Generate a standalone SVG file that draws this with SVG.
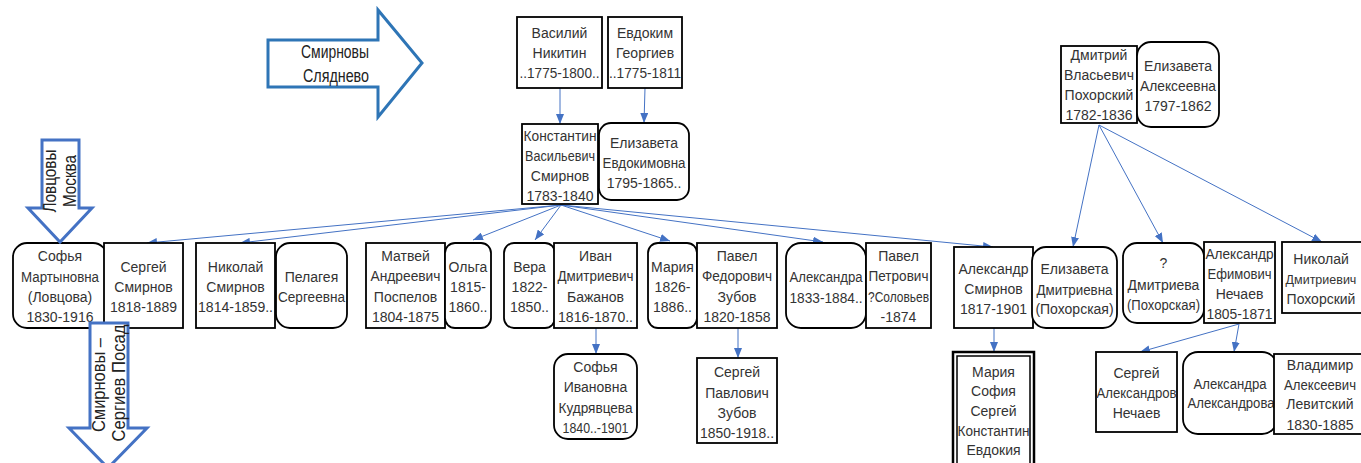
<svg xmlns="http://www.w3.org/2000/svg" width="1361" height="463" viewBox="0 0 1361 463">
<defs>
<marker id="ah" markerWidth="10" markerHeight="8" refX="10" refY="4" orient="auto" markerUnits="userSpaceOnUse">
<path d="M0,0 L10,4 L0,8 z" fill="#4472c4"/>
</marker>
<style>
.n{fill:#fff;stroke:#000;stroke-width:1.8}
.t{font-family:"Liberation Sans",Arial,sans-serif;font-size:14px;fill:#333;text-anchor:middle}
.c{stroke:#4472c4;stroke-width:1;fill:none;marker-end:url(#ah)}
.ba{fill:#fff;stroke:#2e75b6;stroke-width:3}
.bt{font-family:"Liberation Sans",Arial,sans-serif;fill:#222;text-anchor:middle}
</style>
</defs>
<rect width="1361" height="463" fill="#fff"/>

<g id="connectors">
<path class="c" d="M560,88 V124"/>
<path class="c" d="M645,88 L644,123"/>
<path class="c" d="M561,205 L147,243"/>
<path class="c" d="M561,205 L240,243"/>
<path class="c" d="M561,205 L473,240"/>
<path class="c" d="M561,205 L535,240"/>
<path class="c" d="M561,205 L670,241"/>
<path class="c" d="M561,205 L823,242"/>
<path class="c" d="M561,205 L993,247"/>
<path class="c" d="M1099,125 L1073,247"/>
<path class="c" d="M1099,125 L1163,243"/>
<path class="c" d="M1099,125 L1322,242"/>
<path class="c" d="M596,328 V354"/>
<path class="c" d="M738,328 V358"/>
<path class="c" d="M994,328 V352"/>
<path class="c" d="M1239,324 L1140,352"/>
<path class="c" d="M1239,324 L1234,352"/>
</g>

<g id="vasiliy"><rect class="n" x="517" y="17" width="85" height="71"/>
<text class="t" x="559.5" y="38">Василий</text><text class="t" x="559.5" y="58">Никитин</text><text class="t" x="559.5" y="78" textLength="80" lengthAdjust="spacingAndGlyphs">..1775-1800..</text></g>
<g id="evdokim"><rect class="n" x="608" y="17" width="74" height="71"/>
<text class="t" x="645" y="38">Евдоким</text><text class="t" x="645" y="58">Георгиев</text><text class="t" x="645" y="78" textLength="72" lengthAdjust="spacingAndGlyphs">..1775-1811</text></g>
<g id="konstantin"><rect class="n" x="522" y="124" width="76" height="80"/>
<text class="t" x="560" y="141" textLength="73" lengthAdjust="spacingAndGlyphs">Константин</text><text class="t" x="560" y="161" textLength="70" lengthAdjust="spacingAndGlyphs">Васильевич</text><text class="t" x="560" y="181">Смирнов</text><text class="t" x="560" y="201">1783-1840</text></g>
<g id="elizaveta-evd"><rect class="n" x="599" y="123" width="90" height="77" rx="12"/>
<text class="t" x="644" y="148">Елизавета</text><text class="t" x="644" y="168" textLength="83" lengthAdjust="spacingAndGlyphs">Евдокимовна</text><text class="t" x="644" y="188">1795-1865..</text></g>
<g id="dmitriy"><rect class="n" x="1061" y="46" width="76" height="77"/>
<text class="t" x="1099" y="60">Дмитрий</text><text class="t" x="1099" y="80">Власьевич</text><text class="t" x="1099" y="100">Похорский</text><text class="t" x="1099" y="120">1782-1836</text></g>
<g id="elizaveta-alek"><rect class="n" x="1137" y="42" width="82" height="85" rx="14"/>
<text class="t" x="1178" y="71">Елизавета</text><text class="t" x="1178" y="91" textLength="76" lengthAdjust="spacingAndGlyphs">Алексеевна</text><text class="t" x="1178" y="111">1797-1862</text></g>

<g id="sofya-m"><rect class="n" x="13" y="243" width="94" height="85" rx="14"/>
<text class="t" x="60" y="261">Софья</text><text class="t" x="60" y="282" textLength="78" lengthAdjust="spacingAndGlyphs">Мартыновна</text><text class="t" x="60" y="302">(Ловцова)</text><text class="t" x="60" y="322">1830-1916</text></g>
<g id="sergey-s"><rect class="n" x="104" y="243" width="79" height="85"/>
<text class="t" x="143.5" y="272">Сергей</text><text class="t" x="143.5" y="292">Смирнов</text><text class="t" x="143.5" y="312">1818-1889</text></g>
<g id="nikolay-s"><rect class="n" x="196" y="243" width="79" height="85"/>
<text class="t" x="235.5" y="272">Николай</text><text class="t" x="235.5" y="292">Смирнов</text><text class="t" x="235.5" y="312" textLength="75" lengthAdjust="spacingAndGlyphs">1814-1859..</text></g>
<g id="pelageya"><rect class="n" x="276" y="243" width="71" height="85" rx="14"/>
<text class="t" x="311.5" y="282">Пелагея</text><text class="t" x="311.5" y="302" textLength="67" lengthAdjust="spacingAndGlyphs">Сергеевна</text></g>
<g id="matvey"><rect class="n" x="366" y="243" width="79" height="85"/>
<text class="t" x="405.5" y="261">Матвей</text><text class="t" x="405.5" y="281" textLength="70" lengthAdjust="spacingAndGlyphs">Андреевич</text><text class="t" x="405.5" y="302">Поспелов</text><text class="t" x="405.5" y="322">1804-1875</text></g>
<g id="olga"><rect class="n" x="445" y="243" width="46" height="85" rx="10"/>
<text class="t" x="468" y="272">Ольга</text><text class="t" x="468" y="292">1815-</text><text class="t" x="468" y="312">1860..</text></g>
<g id="vera"><rect class="n" x="504" y="243" width="51" height="85" rx="10"/>
<text class="t" x="529.5" y="272">Вера</text><text class="t" x="529.5" y="292">1822-</text><text class="t" x="529.5" y="312">1850..</text></g>
<g id="ivan"><rect class="n" x="554" y="243" width="83" height="85"/>
<text class="t" x="595.5" y="261">Иван</text><text class="t" x="595.5" y="281" textLength="76" lengthAdjust="spacingAndGlyphs">Дмитриевич</text><text class="t" x="595.5" y="302">Бажанов</text><text class="t" x="595.5" y="322" textLength="75" lengthAdjust="spacingAndGlyphs">1816-1870..</text></g>
<g id="mariya"><rect class="n" x="648" y="243" width="49" height="85" rx="10"/>
<text class="t" x="672.5" y="272">Мария</text><text class="t" x="672.5" y="292">1826-</text><text class="t" x="672.5" y="312">1886..</text></g>
<g id="pavel-f"><rect class="n" x="697" y="243" width="80" height="85"/>
<text class="t" x="737" y="261">Павел</text><text class="t" x="737" y="281" textLength="70" lengthAdjust="spacingAndGlyphs">Федорович</text><text class="t" x="737" y="302">Зубов</text><text class="t" x="737" y="322">1820-1858</text></g>
<g id="aleksandra"><rect class="n" x="786" y="243" width="80" height="85" rx="15"/>
<text class="t" x="826" y="282" textLength="73" lengthAdjust="spacingAndGlyphs">Александра</text><text class="t" x="826" y="303" textLength="73" lengthAdjust="spacingAndGlyphs">1833-1884..</text></g>
<g id="pavel-p"><rect class="n" x="866" y="243" width="65" height="85"/>
<text class="t" x="898.5" y="261">Павел</text><text class="t" x="898.5" y="281" textLength="60" lengthAdjust="spacingAndGlyphs">Петрович</text><text class="t" x="898.5" y="302" textLength="61" lengthAdjust="spacingAndGlyphs">?Соловьев</text><text class="t" x="898.5" y="322">-1874</text></g>
<g id="aleksandr-s"><rect class="n" x="954" y="247" width="79" height="81"/>
<text class="t" x="993.5" y="274" textLength="70" lengthAdjust="spacingAndGlyphs">Александр</text><text class="t" x="993.5" y="294">Смирнов</text><text class="t" x="993.5" y="314">1817-1901</text></g>
<g id="elizaveta-dm"><rect class="n" x="1032" y="247" width="85" height="81" rx="14"/>
<text class="t" x="1074.5" y="274">Елизавета</text><text class="t" x="1074.5" y="295" textLength="76" lengthAdjust="spacingAndGlyphs">Дмитриевна</text><text class="t" x="1074.5" y="314">(Похорская)</text></g>
<g id="dmitrieva"><rect class="n" x="1123" y="243" width="81" height="80" rx="14"/>
<text class="t" x="1163.5" y="268">?</text><text class="t" x="1163.5" y="290">Дмитриева</text><text class="t" x="1163.5" y="310" textLength="73" lengthAdjust="spacingAndGlyphs">(Похорская)</text></g>
<g id="aleksandr-ef"><rect class="n" x="1204" y="242" width="71" height="81"/>
<text class="t" x="1239.5" y="259" textLength="68" lengthAdjust="spacingAndGlyphs">Александр</text><text class="t" x="1239.5" y="279" textLength="64" lengthAdjust="spacingAndGlyphs">Ефимович</text><text class="t" x="1239.5" y="299">Нечаев</text><text class="t" x="1239.5" y="319" textLength="66" lengthAdjust="spacingAndGlyphs">1805-1871</text></g>
<g id="nikolay-d"><rect class="n" x="1282" y="242" width="90" height="71"/>
<text class="t" x="1321" y="264">Николай</text><text class="t" x="1321" y="284" style="font-size:12.5px">Дмитриевич</text><text class="t" x="1321" y="304">Похорский</text></g>

<g id="sofya-i"><rect class="n" x="554" y="354" width="83" height="85" rx="14"/>
<text class="t" x="595.5" y="372">Софья</text><text class="t" x="595.5" y="392">Ивановна</text><text class="t" x="595.5" y="413" textLength="74" lengthAdjust="spacingAndGlyphs">Кудрявцева</text><text class="t" x="595.5" y="433" textLength="66" lengthAdjust="spacingAndGlyphs">1840..-1901</text></g>
<g id="sergey-p"><rect class="n" x="697" y="358" width="80" height="85"/>
<text class="t" x="737" y="377">Сергей</text><text class="t" x="737" y="398">Павлович</text><text class="t" x="737" y="418">Зубов</text><text class="t" x="737" y="438" textLength="74" lengthAdjust="spacingAndGlyphs">1850-1918..</text></g>
<g id="mariya-sofiya"><rect x="953" y="352" width="81" height="130" fill="#fff" stroke="#000" stroke-width="2.5"/>
<rect x="957" y="356" width="73" height="130" fill="none" stroke="#000" stroke-width="1.5"/>
<text class="t" x="993.5" y="377">Мария</text><text class="t" x="993.5" y="396">София</text><text class="t" x="993.5" y="416">Сергей</text><text class="t" x="993.5" y="436" textLength="72" lengthAdjust="spacingAndGlyphs">Константин</text><text class="t" x="993.5" y="455">Евдокия</text></g>
<g id="sergey-a"><rect class="n" x="1096" y="352" width="81" height="80"/>
<text class="t" x="1136.5" y="378">Сергей</text><text class="t" x="1136.5" y="398" textLength="80" lengthAdjust="spacingAndGlyphs">Александров</text><text class="t" x="1136.5" y="418">Нечаев</text></g>
<g id="aleksandra-a"><rect class="n" x="1183" y="352" width="94" height="82" rx="15"/>
<text class="t" x="1230" y="389" textLength="73" lengthAdjust="spacingAndGlyphs">Александра</text><text class="t" x="1231" y="408" textLength="87" lengthAdjust="spacingAndGlyphs">Александрова</text></g>
<g id="vladimir"><rect class="n" x="1274" y="354" width="95" height="80"/>
<text class="t" x="1320" y="370">Владимир</text><text class="t" x="1320" y="390" textLength="72" lengthAdjust="spacingAndGlyphs">Алексеевич</text><text class="t" x="1320" y="409">Левитский</text><text class="t" x="1320" y="430">1830-1885</text></g>

<g id="arrow-slyadnevo">
<path class="ba" d="M268,40 H378 V10 L422,63 L378,117 V87 H268 Z"/>
<text class="bt" x="335" y="58" font-size="19" textLength="68" lengthAdjust="spacingAndGlyphs">Смирновы</text>
<text class="bt" x="336" y="82" font-size="19" textLength="66" lengthAdjust="spacingAndGlyphs">Сляднево</text>
</g>
<g id="arrow-lovtsovy">
<path class="ba" style="stroke:#4472c4" d="M42,140 H79 V208 H92 L60,242 L28,208 H42 Z"/>
<text class="bt" transform="translate(50,181) rotate(-90)" x="0" y="6" font-size="18" textLength="63" lengthAdjust="spacingAndGlyphs">Ловцовы</text>
<text class="bt" transform="translate(70,181) rotate(-90)" x="0" y="6" font-size="18" textLength="52" lengthAdjust="spacingAndGlyphs">Москва</text>
</g>
<g id="arrow-posad">
<path class="ba" style="stroke:#4472c4" d="M90,323 H128 V428 H147 L108,468 L69,428 H90 Z"/>
<text class="bt" transform="translate(99,385) rotate(-90)" x="0" y="6" font-size="17.5" textLength="94" lengthAdjust="spacingAndGlyphs">Смирновы –</text>
<text class="bt" transform="translate(119,383) rotate(-90)" x="0" y="6" font-size="17.5" textLength="117" lengthAdjust="spacingAndGlyphs">Сергиев Посад</text>
</g>
</svg>
